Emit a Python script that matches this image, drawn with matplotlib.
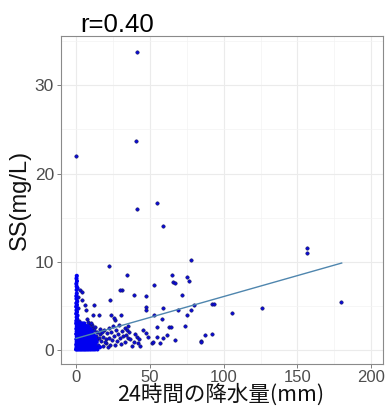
import matplotlib
matplotlib.use("Agg")
import matplotlib.pyplot as plt
from matplotlib.ticker import MultipleLocator
import numpy as np

# 24-hour rainfall (mm) vs suspended solids (mg/L)
# Isolated high-SS / high-rain observations
outlier_pts = [
    (0.2, 22.0), (40.7, 23.7), (41.4, 33.8), (41.6, 16.0), (54.9, 16.7),
    (58.8, 14.0), (78.2, 10.2), (156.8, 11.6), (156.8, 11.0), (106.0, 4.2),
    (126.1, 4.7), (179.7, 5.4),
]

# Moderate observations scattered above the main cluster
scatter_pts = [
    (22.5, 9.5), (34.3, 8.5), (65.3, 8.55), (66.0, 7.7), (67.0, 7.55),
    (75.3, 8.3), (76.6, 7.8), (52.7, 7.35), (31.0, 6.8), (29.5, 6.8),
    (23.3, 5.65), (39.1, 6.2), (47.7, 6.07), (72.1, 6.2), (47.3, 4.9),
    (47.3, 4.5), (59.0, 4.7), (69.0, 4.5), (77.8, 4.5), (80.2, 5.1),
    (92.4, 5.15), (93.8, 5.25), (75.3, 3.95), (58.5, 3.5), (52.7, 3.95),
    (55.1, 2.6), (63.3, 2.65), (64.6, 2.65), (73.9, 2.7), (87.7, 1.7),
    (92.4, 1.8), (84.9, 1.06), (84.9, 0.87), (67.3, 1.13), (61.9, 1.66),
    (59.2, 1.4), (56.7, 0.8), (51.3, 0.8), (55.0, 1.47), (52.2, 0.87),
    (2.7, 6.75), (4.1, 6.6), (3.8, 5.7), (6.3, 5.1), (12.4, 5.1),
    (6.8, 4.5), (11.7, 4.0), (15.8, 3.95), (23.7, 4.0), (30.3, 4.0),
    (26.4, 3.4), (7.6, 3.5), (8.4, 3.2), (10.0, 3.0), (25.8, 3.65),
    (2.0, 3.3), (1.5, 4.8), (1.2, 6.0),
]

# Low-rain column (near 0 mm) with elevated SS
column_pts = [
    (0.5, 8.4), (0.3, 8.1), (0.6, 7.8), (0.2, 7.5), (0.4, 7.2),
    (1.0, 7.0), (0.4, 6.8), (0.5, 6.4), (0.2, 6.1), (0.3, 5.8),
    (0.8, 5.5), (0.2, 5.3), (0.6, 5.1), (0.1, 4.9), (0.9, 4.7),
    (0.3, 4.5), (0.6, 4.3), (0.1, 4.1), (1.0, 3.9), (0.4, 3.7),
    (0.8, 3.5), (0.2, 3.3), (0.6, 3.1),
]

# Light rain, low SS: the bulk of the record
cluster_pts = [
    (0.0, 0.05), (0.8, 0.05), (1.6, 0.05), (2.5, 0.05), (3.4, 0.05), (4.3, 0.05),
    (5.2, 0.05), (6.1, 0.05), (7.0, 0.05), (8.0, 0.05), (9.1, 0.05), (10.2, 0.05),
    (11.5, 0.05), (12.8, 0.05), (14.5, 0.05),
    (0.3, 0.3), (1.2, 0.3), (2.1, 0.3), (3.0, 0.3), (3.9, 0.3), (4.8, 0.3),
    (5.7, 0.3), (6.6, 0.3), (7.6, 0.3), (8.6, 0.3), (9.7, 0.3), (10.9, 0.3),
    (12.1, 0.3), (13.6, 0.3), (16.2, 0.3),
    (0.1, 0.6), (1.0, 0.6), (1.9, 0.6), (2.8, 0.6), (3.7, 0.6), (4.6, 0.6),
    (5.5, 0.6), (6.4, 0.6), (7.3, 0.6), (8.3, 0.6), (9.3, 0.6), (10.4, 0.6),
    (11.6, 0.6), (13.0, 0.6),
    (0.4, 0.9), (1.3, 0.9), (2.2, 0.9), (3.1, 0.9), (4.0, 0.9), (4.9, 0.9),
    (5.8, 0.9), (6.8, 0.9), (7.8, 0.9), (8.9, 0.9), (10.0, 0.9), (11.2, 0.9),
    (12.5, 0.9), (14.0, 0.9),
    (0.2, 1.2), (1.1, 1.2), (2.0, 1.2), (2.9, 1.2), (3.8, 1.2), (4.7, 1.2),
    (5.6, 1.2), (6.5, 1.2), (7.5, 1.2), (8.5, 1.2), (9.6, 1.2), (10.8, 1.2),
    (12.0, 1.2),
    (0.5, 1.5), (1.4, 1.5), (2.3, 1.5), (3.2, 1.5), (4.1, 1.5), (5.0, 1.5),
    (5.9, 1.5), (6.9, 1.5), (7.9, 1.5), (9.0, 1.5), (10.1, 1.5), (11.4, 1.5),
    (12.9, 1.5),
    (0.1, 1.8), (1.0, 1.8), (1.9, 1.8), (2.8, 1.8), (3.7, 1.8), (4.6, 1.8),
    (5.5, 1.8), (6.5, 1.8), (7.6, 1.8), (8.7, 1.8), (9.9, 1.8), (11.1, 1.8),
    (0.4, 2.1), (1.3, 2.1), (2.2, 2.1), (3.1, 2.1), (4.0, 2.1), (5.0, 2.1),
    (6.0, 2.1), (7.1, 2.1), (8.2, 2.1), (9.4, 2.1), (10.6, 2.1),
    (0.2, 2.4), (1.1, 2.4), (2.0, 2.4), (2.9, 2.4), (3.9, 2.4), (4.9, 2.4),
    (5.9, 2.4), (7.0, 2.4), (8.1, 2.4), (9.3, 2.4),
    (0.5, 2.7), (1.4, 2.7), (2.4, 2.7), (3.4, 2.7), (4.4, 2.7), (5.5, 2.7),
    (6.6, 2.7), (7.8, 2.7),
    (0.1, 3.0), (1.0, 3.0), (2.0, 3.0), (3.1, 3.0), (4.3, 3.0), (5.6, 3.0),
    (0.7, 0.15), (2.9, 0.45), (5.1, 0.75), (7.2, 1.05), (9.5, 1.35), (11.8, 1.05),
    (1.7, 1.35), (3.6, 1.65), (6.2, 1.95), (8.8, 2.25), (2.6, 2.55), (4.7, 2.85),
    (10.5, 0.45), (12.4, 0.75), (6.9, 0.15), (13.3, 1.2), (11.9, 1.7), (0.9, 2.25),
]

# Sparser light-rain observations to the right of the bulk
fringe_pts = [
    (13.0, 2.6), (14.0, 1.2), (14.5, 2.0), (15.0, 0.6), (16.0, 1.8), (16.5, 2.4),
    (17.0, 1.0), (18.0, 1.5), (18.5, 0.4), (19.0, 2.2), (20.0, 1.2), (20.5, 0.8),
    (21.0, 1.9), (22.0, 2.5), (22.5, 1.4), (23.0, 0.6), (24.0, 2.0), (24.5, 1.1),
    (25.0, 2.7), (26.0, 1.6), (26.5, 0.5), (27.0, 2.2), (28.0, 1.0), (28.5, 1.8),
    (29.0, 2.8), (30.0, 1.3), (30.5, 0.7), (31.0, 2.1), (32.0, 1.6), (33.0, 2.5),
    (33.5, 0.9), (34.4, 2.2), (35.5, 2.7), (35.9, 2.0), (33.9, 1.66), (35.5, 1.4),
    (36.6, 1.2), (40.0, 1.77), (41.1, 1.5), (42.7, 1.28), (39.3, 0.9), (42.3, 0.83),
    (45.6, 2.26), (47.2, 1.89), (48.6, 1.5), (38.2, 0.45), (43.4, 0.45),
    (11.0, 2.5), (12.0, 2.2), (13.5, 1.6), (15.5, 1.3), (17.5, 2.0), (19.5, 0.9),
    (21.5, 0.3), (10.5, 2.8), (9.0, 2.8), (12.2, 0.2),
]

# Least-squares line shown on the plot (endpoints in data units)
fit_x = [0.0, 180.0]
fit_y = [1.3, 9.85]
r_label = "r=0.40"

x_ticks = [0, 50, 100, 150, 200]
y_ticks = [0, 10, 20, 30]


def split_xy(pts):
    return np.array([p[0] for p in pts]), np.array([p[1] for p in pts])


sparse_x, sparse_y = split_xy(fringe_pts + scatter_pts + outlier_pts)
dense_x, dense_y = split_xy(cluster_pts + column_pts)

fig = plt.figure(figsize=(3.85, 4.07), dpi=100)
ax = fig.add_axes([61 / 385, 1 - 364 / 407, 322 / 385, 328 / 407])

ax.set_xlim(-10.2, 208.0)
ax.set_ylim(-1.6, 35.6)

ax.set_xticks(x_ticks)
ax.set_yticks(y_ticks)
ax.xaxis.set_minor_locator(MultipleLocator(25))
ax.yaxis.set_minor_locator(MultipleLocator(5))

ax.grid(True, which="major", color="#ebebeb", linewidth=0.8, zorder=0)
ax.grid(True, which="minor", color="#f3f3f3", linewidth=0.5, zorder=0)
ax.set_axisbelow(True)

ax.scatter(sparse_x, sparse_y, s=6, facecolor="#0a0ad8", edgecolor="#14145e",
           linewidths=0.4, zorder=3)
ax.scatter(dense_x, dense_y, s=9, facecolor="#0000f0", edgecolor="none",
           zorder=3)
ax.plot(fit_x, fit_y, color="#4f86ae", linewidth=1.0, zorder=4)

for sp in ax.spines.values():
    sp.set_color("#8a8a8a")
    sp.set_linewidth(0.8)

ax.tick_params(which="major", length=3, width=0.6, color="#6a6a6a",
               labelcolor="#4d4d4d", labelsize=12.5, pad=2)
ax.tick_params(axis="x", which="major", labelsize=12, pad=1)
ax.tick_params(which="minor", length=0)
for lbl in ax.get_xticklabels() + ax.get_yticklabels():
    lbl.set_fontfamily("Liberation Sans")

ax.set_ylabel("SS(mg/L)", fontsize=17, family="Liberation Sans",
              color="#111111", labelpad=3)

# x-axis title placed explicitly so its descenders stay inside the canvas
fig.text(221 / 385, 1 / 407, "24時間の降水量(mm)", fontsize=15.5,
         family=["Noto Sans CJK JP", "DejaVu Sans"], color="#111111",
         ha="center", va="bottom")

fig.text(80 / 385, 1 - 31.5 / 407, r_label, fontsize=18.5,
         family="Liberation Sans", color="#000000", va="baseline", ha="left")

fig.savefig("out.png", dpi=100, facecolor="white")
